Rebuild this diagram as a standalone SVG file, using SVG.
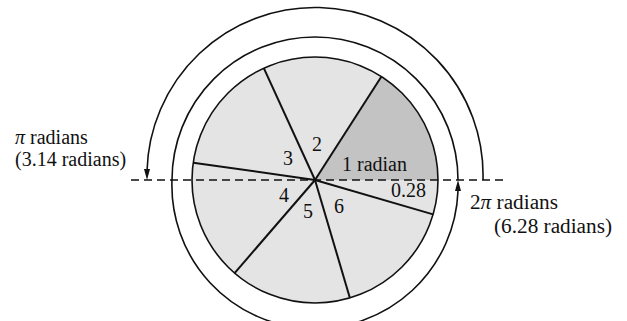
<svg xmlns="http://www.w3.org/2000/svg" width="627" height="321" viewBox="0 0 627 321">
<style>
  .lbl { font-family: "Liberation Serif", "Times New Roman", serif; font-size: 20px; fill: #111; }
  .ln { fill: none; stroke: #111; stroke-width: 1.6; }
  .spoke { stroke: #111; stroke-width: 2; }
  .pi { font-style: italic; }
</style>
<rect width="627" height="321" fill="#fff"/>

<g id="disc">
  <circle cx="315" cy="180" r="123" fill="#e4e4e4"/>
  <path d="M315 180 L438 180 A123 123 0 0 0 381.46 76.50 Z" fill="#c3c3c3"/>
  <circle cx="315" cy="180" r="123" class="ln"/>
</g>

<g id="spokes">
  <line class="spoke" x1="315" y1="180" x2="381.46" y2="76.50"/>
  <line class="spoke" x1="315" y1="180" x2="263.81" y2="68.15"/>
  <line class="spoke" x1="315" y1="180" x2="193.23" y2="162.64"/>
  <line class="spoke" x1="315" y1="180" x2="234.60" y2="273.09"/>
  <line class="spoke" x1="315" y1="180" x2="349.89" y2="297.95"/>
  <line class="spoke" x1="315" y1="180" x2="433.10" y2="214.37"/>
</g>

<g id="connectors">
  <line x1="131" y1="180" x2="508" y2="180" stroke="#111" stroke-width="1.6" stroke-dasharray="8 5"/>
  <path class="ln" d="M458 180 A143 143 0 1 0 172 180 A143 143 0 0 0 458 191"/>
  <path d="M458 180 L455 191 L461 191 Z" fill="#111"/>
  <path class="ln" d="M483 180 A168 168 0 0 0 147 171"/>
  <path d="M147 180 L144 169 L150 169 Z" fill="#111"/>
</g>

<g id="labels">
  <text class="lbl" x="15" y="144"><tspan class="pi">π</tspan> radians</text>
  <text class="lbl" x="15" y="166">(3.14 radians)</text>
  <text class="lbl" x="470" y="209" textLength="88" lengthAdjust="spacingAndGlyphs">2<tspan class="pi">π</tspan> radians</text>
  <text class="lbl" x="494" y="233" textLength="118" lengthAdjust="spacingAndGlyphs">(6.28 radians)</text>
  <text class="lbl" x="342" y="171">1 radian</text>
  <text class="lbl" x="391" y="197">0.28</text>
  <text class="lbl" x="312" y="151">2</text>
  <text class="lbl" x="283" y="165">3</text>
  <text class="lbl" x="279" y="202">4</text>
  <text class="lbl" x="303" y="218">5</text>
  <text class="lbl" x="334" y="213">6</text>
</g>
</svg>
